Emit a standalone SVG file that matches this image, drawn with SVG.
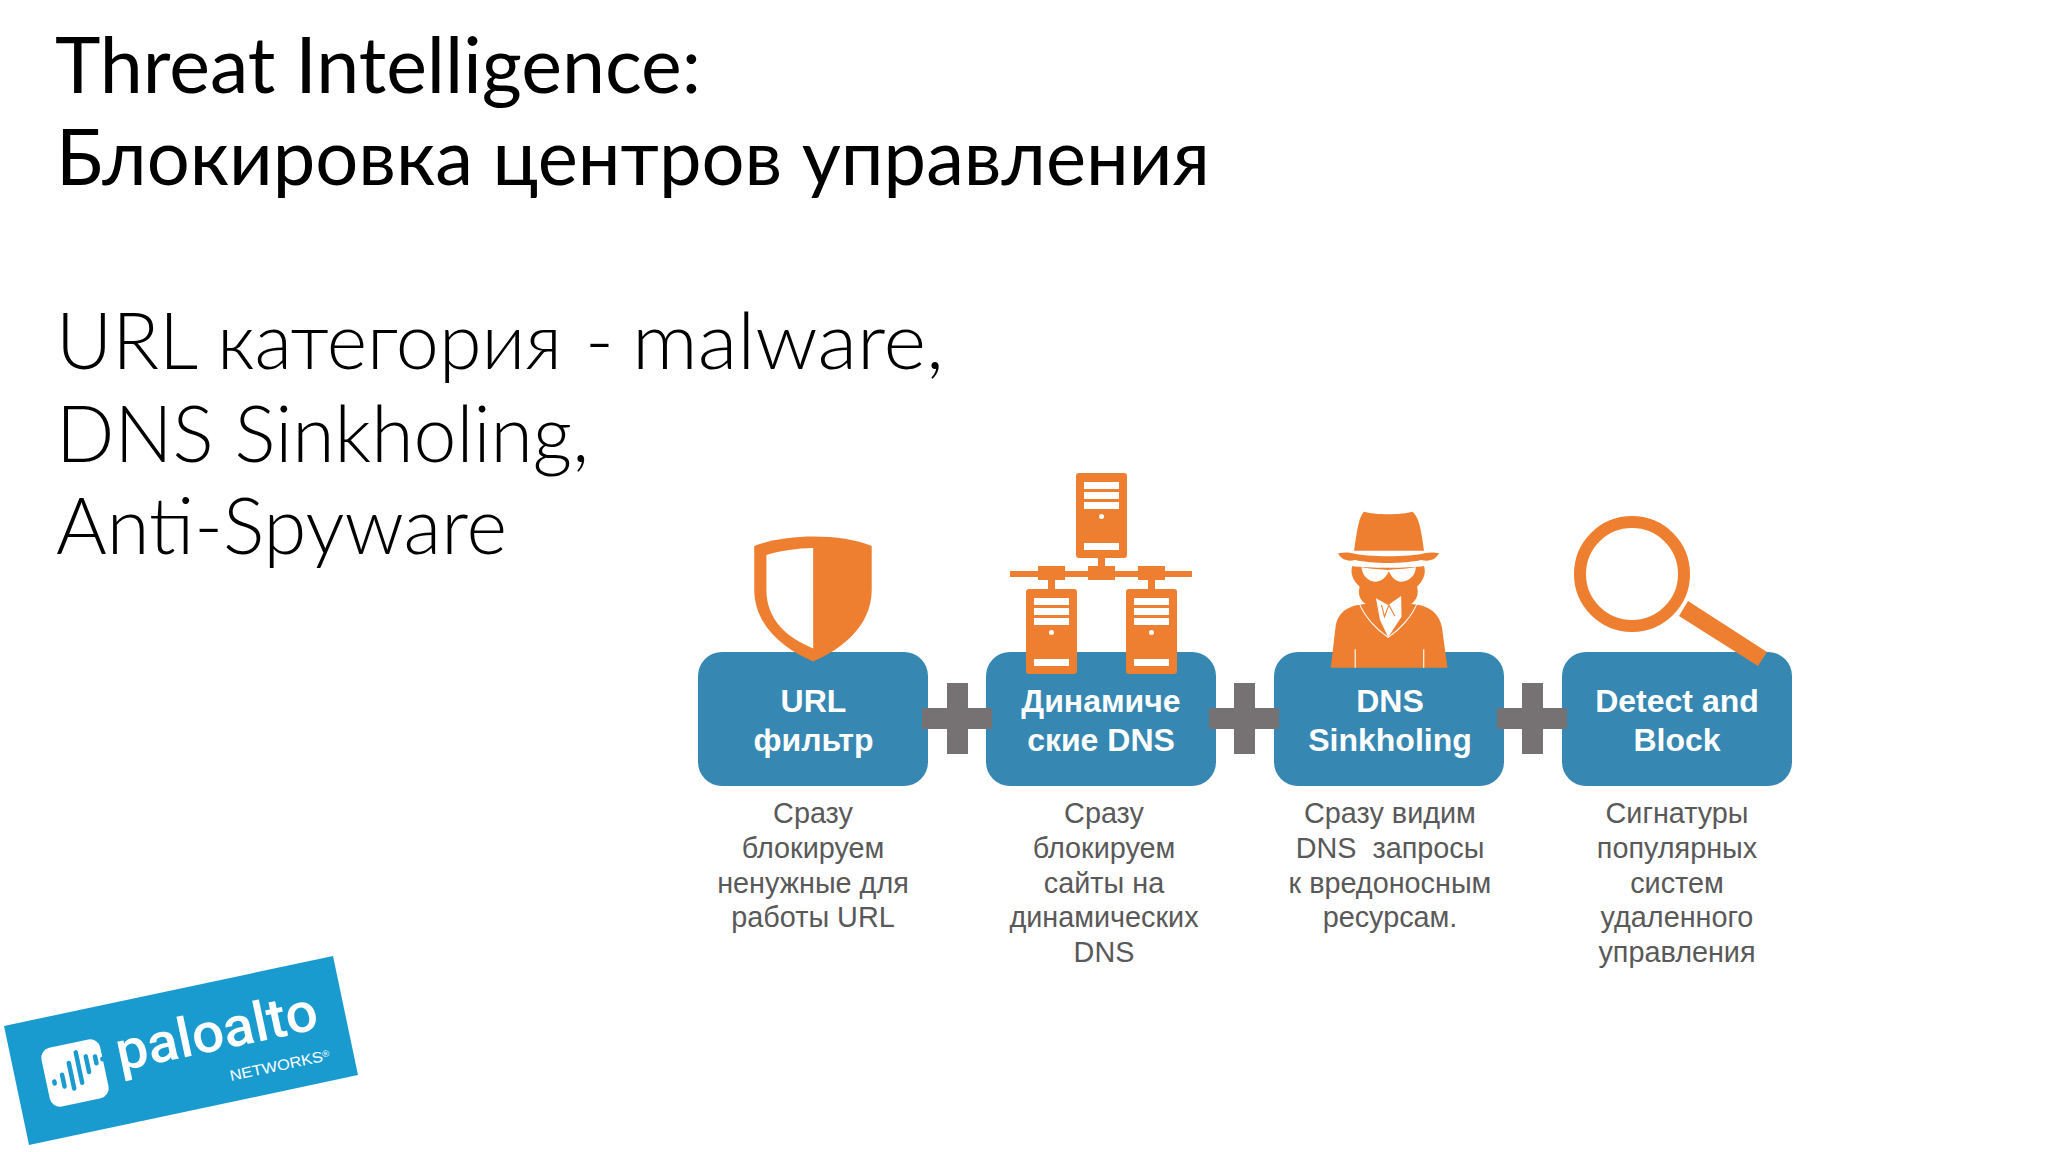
<svg xmlns="http://www.w3.org/2000/svg" xmlns:xlink="http://www.w3.org/1999/xlink" width="2048" height="1152" viewBox="0 0 2048 1152">
<style>
.title{font-family:"Lato","Noto Sans",sans-serif;font-size:78px;fill:#000}
.sub{font-family:"Lato","Noto Sans",sans-serif;font-weight:300;font-size:78px;fill:#000}
.box{fill:#3688b3}
.lbl{font-family:"Liberation Sans",Arial,sans-serif;font-weight:700;font-size:32px;fill:#fff;text-anchor:middle}
.desc{font-family:"Liberation Sans",Arial,sans-serif;font-size:28.8px;fill:#595959;text-anchor:middle}
.o{fill:#ee7f31}
.w{fill:#fff}
.plus{fill:#767274}
</style>
<defs>
<g id="server">
<rect width="51" height="85" rx="3" class="o"/>
<rect x="8" y="9" width="35" height="7" class="w"/>
<rect x="8" y="19" width="35" height="7" class="w"/>
<rect x="8" y="29" width="35" height="7" class="w"/>
<circle cx="25.5" cy="43.500" r="2.500" class="w"/>
<rect x="8" y="70" width="35" height="7" class="w"/>
</g>
<g id="plusSign">
<rect x="0" y="25" width="70" height="21"/>
<rect x="25" y="0" width="21" height="71"/>
</g>
</defs>
<rect width="2048" height="1152" fill="#fff"/>
<g id="heading">
<text class="title" x="55" y="93" textLength="646" lengthAdjust="spacingAndGlyphs">Threat Intelligence:</text>
<text class="title" x="56" y="185" textLength="1154" lengthAdjust="spacingAndGlyphs">Блокировка центров управления</text>
<text class="sub" x="56" y="369" textLength="506" lengthAdjust="spacingAndGlyphs">URL категория</text>
<text class="sub" x="585" y="369">-</text>
<text class="sub" x="632" y="369" textLength="312" lengthAdjust="spacingAndGlyphs">malware,</text>
<text class="sub" x="56" y="462" textLength="533" lengthAdjust="spacingAndGlyphs">DNS Sinkholing,</text>
<text class="sub" x="56" y="554" textLength="451" lengthAdjust="spacingAndGlyphs">Anti-Spyware</text>
</g>
<g id="node-url">
<rect class="box" x="698" y="652" width="230" height="134" rx="24"/>
<g transform="translate(680 460) scale(.357 .333)">
<path class="o" d="M208 258C300 220 450 220 537 258L537 390C537 500 450 570 373 605C295 570 208 500 208 390Z"/>
<path class="w" d="M242 285C280 272 330 265 373 264L373 566C300 535 242 480 242 390Z"/>
</g>
<text class="lbl" x="813.500" y="712">URL</text>
<text class="lbl" x="813.500" y="751">фильтр</text>
<text class="desc" x="813" y="823">Сразу</text>
<text class="desc" x="813" y="858">блокируем</text>
<text class="desc" x="813" y="893">ненужные для</text>
<text class="desc" x="813" y="927">работы URL</text>
</g>
<g id="node-ddns">
<rect class="box" x="986" y="652" width="230" height="134" rx="24"/>
<g class="o">
<rect x="1010" y="571" width="182" height="6"/>
<rect x="1038" y="566" width="27" height="14"/>
<rect x="1088" y="566" width="27" height="14"/>
<rect x="1138" y="566" width="27" height="14"/>
<rect x="1098" y="556" width="7" height="12"/>
<rect x="1048" y="578" width="7" height="12"/>
<rect x="1148" y="578" width="7" height="12"/>
</g>
<use xlink:href="#server" href="#server" x="1076" y="473"/>
<use xlink:href="#server" href="#server" x="1026" y="589"/>
<use xlink:href="#server" href="#server" x="1126" y="589"/>
<text class="lbl" x="1101" y="712">Динамиче</text>
<text class="lbl" x="1101" y="751">ские DNS</text>
<text class="desc" x="1104" y="823">Сразу</text>
<text class="desc" x="1104" y="858">блокируем</text>
<text class="desc" x="1104" y="893">сайты на</text>
<text class="desc" x="1104" y="927">динамических</text>
<text class="desc" x="1104" y="962">DNS</text>
</g>
<g id="node-sinkhole">
<rect class="box" x="1274" y="652" width="230" height="134" rx="24"/>
<g transform="translate(1240 490) scale(.3704 .3333)">
<path class="o" d="M335 65C360 75 440 75 465 65C485 80 490 130 497 182L308 182C315 130 320 80 335 65Z"/>
<path class="o" d="M265 190C280 186 295 187 304 190C340 202 460 202 498 190C510 187 525 186 537 190C530 208 512 216 490 210C440 222 360 222 310 210C290 216 272 208 265 190Z"/>
<path class="o" d="M303 228C340 235 460 235 497 228C503 250 495 272 478 290C483 310 478 330 462 342C500 345 535 360 545 410L560 533L245 533L258 410C265 360 300 345 340 342C322 330 318 310 323 290C305 272 297 250 303 228Z"/>
<path class="w" d="M328 232C350 237 385 238 398 240C410 238 450 237 475 232C474 255 458 275 435 275C420 275 410 262 402 244C394 262 382 275 365 275C345 275 330 255 328 232Z"/>
<path class="w" d="M367 325L400 345L435 318L436 380L400 442L378 390Z"/>
<path d="M382 345L390 380L402 345L418 378" fill="none" stroke="#ee7f31" stroke-width="3"/>
<path d="M320 335C335 380 370 420 400 442C430 420 465 380 480 335" fill="none" stroke="#fff" stroke-width="3"/>
<path d="M311 478V533M496 478V533" stroke="#fff" stroke-width="3"/>
</g>
<text class="lbl" x="1390" y="712">DNS</text>
<text class="lbl" x="1390" y="751">Sinkholing</text>
<text class="desc" x="1390" y="823">Сразу видим</text>
<text class="desc" x="1390" y="858" xml:space="preserve">DNS  запросы</text>
<text class="desc" x="1390" y="893">к вредоносным</text>
<text class="desc" x="1390" y="927">ресурсам.</text>
</g>
<g id="node-detect">
<rect class="box" x="1562" y="652" width="230" height="134" rx="24"/>
<circle cx="1632" cy="574" r="52" fill="none" stroke="#ee7f31" stroke-width="12"/>
<polygon class="o" points="1688,601 1767,652 1758,666 1679,616"/>
<text class="lbl" x="1677" y="712">Detect and</text>
<text class="lbl" x="1677" y="751">Block</text>
<text class="desc" x="1677" y="823">Сигнатуры</text>
<text class="desc" x="1677" y="858">популярных</text>
<text class="desc" x="1677" y="893">систем</text>
<text class="desc" x="1677" y="927">удаленного</text>
<text class="desc" x="1677" y="962">управления</text>
</g>
<g id="connectors" class="plus">
<use xlink:href="#plusSign" href="#plusSign" x="922" y="683"/>
<use xlink:href="#plusSign" href="#plusSign" x="1209" y="683"/>
<use xlink:href="#plusSign" href="#plusSign" x="1497" y="683"/>
</g>
<g id="logo">
<polygon fill="#1a9bd0" points="4,1026 333,956 358,1075 29,1145"/>
<g transform="translate(75 1073) rotate(-12)">
<rect x="-30" y="-30" width="60" height="60" rx="10" class="w"/>
<circle cx="30" cy="-8" r="2.500" fill="#1a9bd0"/>
<g stroke="#1a9bd0" stroke-width="4.500" stroke-linecap="round">
<path d="M-22 4V6M-13 -1V11M-4 -11V15M5 -20V11M14 -14V2M23 -12V-5"/>
</g>
</g>
<text transform="translate(120 1071) rotate(-12)" font-family="Roboto,'Noto Sans',sans-serif" font-weight="500" font-size="55" fill="#fff" textLength="205" lengthAdjust="spacingAndGlyphs">paloalto</text>
<text transform="translate(231 1081) rotate(-12)" font-family="'Liberation Sans',Arial,sans-serif" font-size="15" fill="#fff" textLength="102" lengthAdjust="spacingAndGlyphs">NETWORKS<tspan font-size="9" dy="-4">®</tspan></text>
</g>
</svg>
